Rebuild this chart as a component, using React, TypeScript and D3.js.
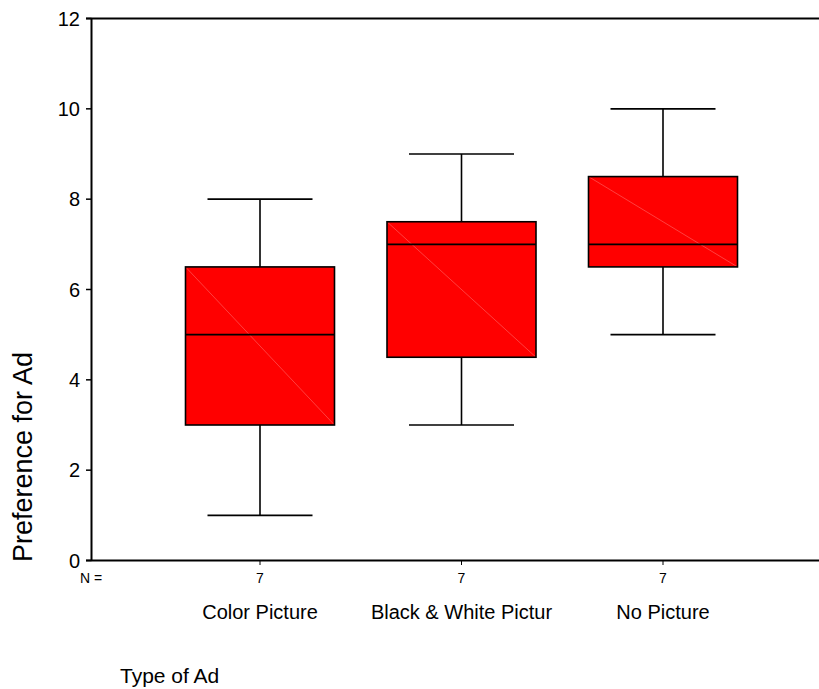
import React from "react";
import * as d3 from "d3";

const categories = ["Color Picture", "Black & White Pictur", "No Picture"];
const whiskerLow = [1, 3, 5];
const q1 = [3, 4.5, 6.5];
const medians = [5, 7, 7];
const q3 = [6.5, 7.5, 8.5];
const whiskerHigh = [8, 9, 10];
const counts = [7, 7, 7];
const yTicks = [0, 2, 4, 6, 8, 10, 12];

const W = 819;
const H = 689;
const FONT = "Arial, 'Liberation Sans', Helvetica, sans-serif";

export default function App() {
  const axisX = 91.5;
  const y = d3.scaleLinear().domain([0, 12]).range([560.5, 18.5]);
  const x = d3.scalePoint<string>().domain(categories).range([260, 663]);
  const boxW = 149;
  const capW = 105;

  return (
    <svg
      width={W}
      height={H}
      style={{ position: "absolute", left: 0, top: 0, background: "#fff" }}
      fontFamily={FONT}
    >
      {categories.map((c, i) => {
        const cx = x(c)!;
        const x0 = cx - boxW / 2;
        const x1 = cx + boxW / 2;
        return (
          <g key={c}>
            <line x1={cx} x2={cx} y1={y(whiskerHigh[i])} y2={y(q3[i])} stroke="#000" strokeWidth={1.6} />
            <line x1={cx} x2={cx} y1={y(q1[i])} y2={y(whiskerLow[i])} stroke="#000" strokeWidth={1.6} />
            <line x1={cx - capW / 2} x2={cx + capW / 2} y1={y(whiskerHigh[i])} y2={y(whiskerHigh[i])} stroke="#000" strokeWidth={1.6} />
            <line x1={cx - capW / 2} x2={cx + capW / 2} y1={y(whiskerLow[i])} y2={y(whiskerLow[i])} stroke="#000" strokeWidth={1.6} />
            <rect x={x0} y={y(q3[i])} width={boxW} height={y(q1[i]) - y(q3[i])} fill="#ff0000" stroke="none" />
            <line x1={x0} y1={y(q3[i])} x2={x1} y2={y(q1[i])} stroke="#ff5a5a" strokeWidth={0.7} />
            <rect x={x0} y={y(q3[i])} width={boxW} height={y(q1[i]) - y(q3[i])} fill="none" stroke="#000" strokeWidth={1.6} />
            <line x1={x0} x2={x1} y1={y(medians[i])} y2={y(medians[i])} stroke="#000" strokeWidth={1.6} />
            <line x1={cx} x2={cx} y1={560.5} y2={565} stroke="#000" strokeWidth={1} />
            <text x={cx} y={583} fontSize={14} textAnchor="middle" fill="#000">{counts[i]}</text>
            <text x={cx} y={619} fontSize={20} textAnchor="middle" fill="#000">{c}</text>
          </g>
        );
      })}

      <line x1={axisX} x2={axisX} y1={y(12)} y2={y(0)} stroke="#000" strokeWidth={2} />
      <line x1={86} x2={W} y1={y(12)} y2={y(12)} stroke="#000" strokeWidth={2} />
      <line x1={86} x2={W} y1={y(0)} y2={y(0)} stroke="#000" strokeWidth={2} />
      {yTicks.map((t) => (
        <g key={t}>
          <line x1={86} x2={axisX} y1={y(t)} y2={y(t)} stroke="#000" strokeWidth={1.5} />
          <text x={80} y={y(t)} dy="0.35em" fontSize={20} textAnchor="end" fill="#000">{t}</text>
        </g>
      ))}

      <text x={80} y={583} fontSize={14} fill="#000">N =</text>

      <text
        transform={`translate(32, 457) rotate(-90)`}
        fontSize={27}
        textAnchor="middle"
        fill="#000"
      >
        Preference for Ad
      </text>

      <text x={120} y={683} fontSize={21} fill="#000">Type of Ad</text>
    </svg>
  );
}
